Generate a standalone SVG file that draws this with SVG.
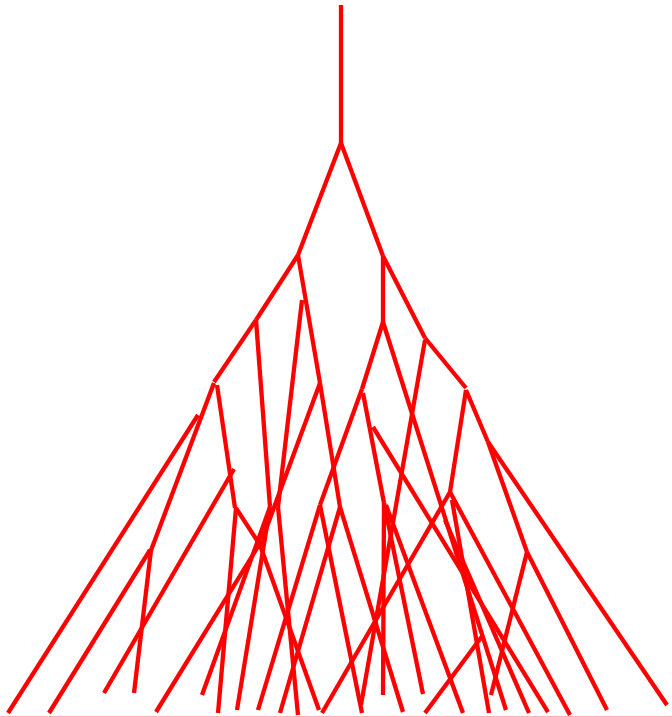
<svg xmlns="http://www.w3.org/2000/svg" width="672" height="717" viewBox="0 0 672 717">
<style>
.b{stroke:#ff0000;stroke-width:4.3;fill:none;stroke-linecap:butt}
.edge{stroke:#ffb0b0;stroke-width:1}
</style>
<rect width="672" height="717" fill="#ffffff"/>
<line class="edge" x1="0" y1="716.5" x2="672" y2="716.5"/>
<g id="tree" class="b">
<line x1="341" y1="5" x2="341" y2="143"/>
<line x1="341" y1="143" x2="298" y2="255"/>
<line x1="341" y1="143" x2="383" y2="256"/>
<line x1="298" y1="255" x2="256" y2="320"/>
<line x1="256" y1="320" x2="214" y2="382"/>
<line x1="298" y1="255" x2="320" y2="383"/>
<line x1="383" y1="256" x2="383" y2="322"/>
<line x1="383" y1="256" x2="425" y2="338"/>
<line x1="425" y1="338" x2="466" y2="388"/>
<line x1="383" y1="322" x2="362" y2="389"/>
<line x1="383" y1="322" x2="506" y2="710"/>
<line x1="214" y1="383" x2="150" y2="553"/>
<line x1="198" y1="415" x2="8" y2="713"/>
<line x1="150" y1="550" x2="49" y2="713"/>
<line x1="151" y1="550" x2="134" y2="693"/>
<line x1="217" y1="385" x2="235" y2="508"/>
<line x1="234" y1="469" x2="104" y2="693"/>
<line x1="236" y1="508" x2="218" y2="713"/>
<line x1="236" y1="508" x2="260" y2="545"/>
<line x1="256" y1="320" x2="270" y2="507"/>
<line x1="302" y1="300" x2="278" y2="507"/>
<line x1="320" y1="383" x2="262" y2="540"/>
<line x1="262" y1="540" x2="156" y2="712"/>
<line x1="270" y1="507" x2="202" y2="695"/>
<line x1="270" y1="507" x2="237" y2="710"/>
<line x1="260" y1="545" x2="319" y2="710"/>
<line x1="278" y1="507" x2="298" y2="715"/>
<line x1="320" y1="383" x2="340" y2="507"/>
<line x1="362" y1="389" x2="320" y2="505"/>
<line x1="320" y1="505" x2="258" y2="710"/>
<line x1="320" y1="505" x2="362" y2="713"/>
<line x1="340" y1="507" x2="280" y2="713"/>
<line x1="340" y1="507" x2="403" y2="712"/>
<line x1="363" y1="393" x2="384" y2="503"/>
<line x1="384" y1="503" x2="383" y2="695"/>
<line x1="384" y1="503" x2="423" y2="694"/>
<line x1="386" y1="505" x2="463" y2="713"/>
<line x1="425" y1="340" x2="361" y2="705"/>
<line x1="373" y1="427" x2="548" y2="712"/>
<line x1="466" y1="390" x2="450" y2="492"/>
<line x1="450" y1="492" x2="322" y2="713"/>
<line x1="450" y1="492" x2="570" y2="715"/>
<line x1="466" y1="390" x2="488" y2="442"/>
<line x1="488" y1="442" x2="667" y2="705"/>
<line x1="488" y1="442" x2="527" y2="552"/>
<line x1="527" y1="552" x2="607" y2="710"/>
<line x1="527" y1="552" x2="491" y2="695"/>
<line x1="483" y1="635" x2="425" y2="713"/>
<line x1="452" y1="500" x2="489" y2="713"/>
<line x1="445" y1="520" x2="529" y2="713"/>
</g>
</svg>
